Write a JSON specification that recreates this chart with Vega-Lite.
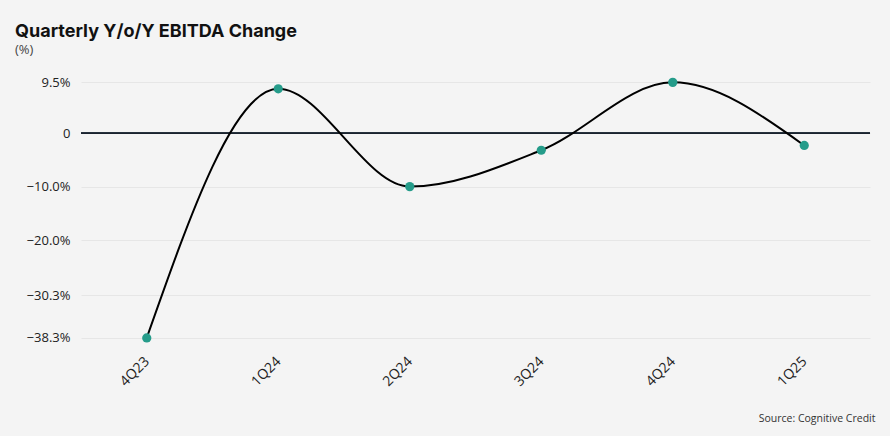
{
  "$schema": "https://vega.github.io/schema/vega-lite/v6.json",
  "width": 789,
  "height": 278,
  "autosize": {"type": "none"},
  "padding": {"left": 81, "top": 69, "right": 20, "bottom": 89},
  "background": "#f4f4f4",
  "config": {
    "view": {"stroke": null},
    "font": "Open Sans"
  },
  "title": {
    "text": "Quarterly Y/o/Y EBITDA Change",
    "subtitle": "(%)",
    "anchor": "start",
    "frame": "group",
    "dx": -66,
    "offset": 12,
    "font": "Inter",
    "fontSize": 18,
    "fontWeight": "bold",
    "color": "#111111",
    "subtitleFont": "Open Sans",
    "subtitleFontSize": 13,
    "subtitleColor": "#444444",
    "subtitlePadding": 3
  },
  "data": {
    "values": [
      {"quarter": "4Q23", "change": -38.3},
      {"quarter": "1Q24", "change": 8.3},
      {"quarter": "2Q24", "change": -10.0},
      {"quarter": "3Q24", "change": -3.2},
      {"quarter": "4Q24", "change": 9.5},
      {"quarter": "1Q25", "change": -2.3}
    ]
  },
  "encoding": {
    "x": {
      "field": "quarter",
      "type": "ordinal",
      "sort": null,
      "scale": {"type": "point", "padding": 0.5},
      "axis": {
        "labelAngle": -45,
        "labelAlign": "right",
        "labelBaseline": "middle",
        "labelFontSize": 14,
        "labelColor": "#222222",
        "labelPadding": 12,
        "ticks": false,
        "domain": false,
        "grid": false,
        "title": "Source: Cognitive Credit",
        "titleFontSize": 10.5,
        "titleFontWeight": "normal",
        "titleColor": "#333333",
        "titleAnchor": "end",
        "titleAlign": "right",
        "titleBaseline": "alphabetic",
        "titleX": 794,
        "titleY": 74
      }
    },
    "y": {
      "field": "change",
      "type": "quantitative",
      "scale": {"domain": [-40, 12], "nice": false, "zero": false},
      "axis": {
        "values": [9.5, 0, -10.0, -20.0, -30.3, -38.3],
        "labelExpr": "datum.value == 0 ? '0' : format(datum.value, '.1f') + '%'",
        "labelFontSize": 13,
        "labelColor": "#222222",
        "labelPadding": 11,
        "ticks": false,
        "domain": false,
        "grid": true,
        "gridColor": "#e6e6e6",
        "gridWidth": 1,
        "title": null
      }
    }
  },
  "layer": [
    {
      "mark": {"type": "rule", "color": "#1b2530", "strokeWidth": 1},
      "encoding": {
        "y": {"datum": 0},
        "x": null
      }
    },
    {
      "mark": {"type": "line", "interpolate": "monotone", "color": "#000000", "strokeWidth": 2}
    },
    {
      "mark": {"type": "point", "filled": true, "opacity": 1, "size": 85, "color": "#259c8a"}
    }
  ]
}
